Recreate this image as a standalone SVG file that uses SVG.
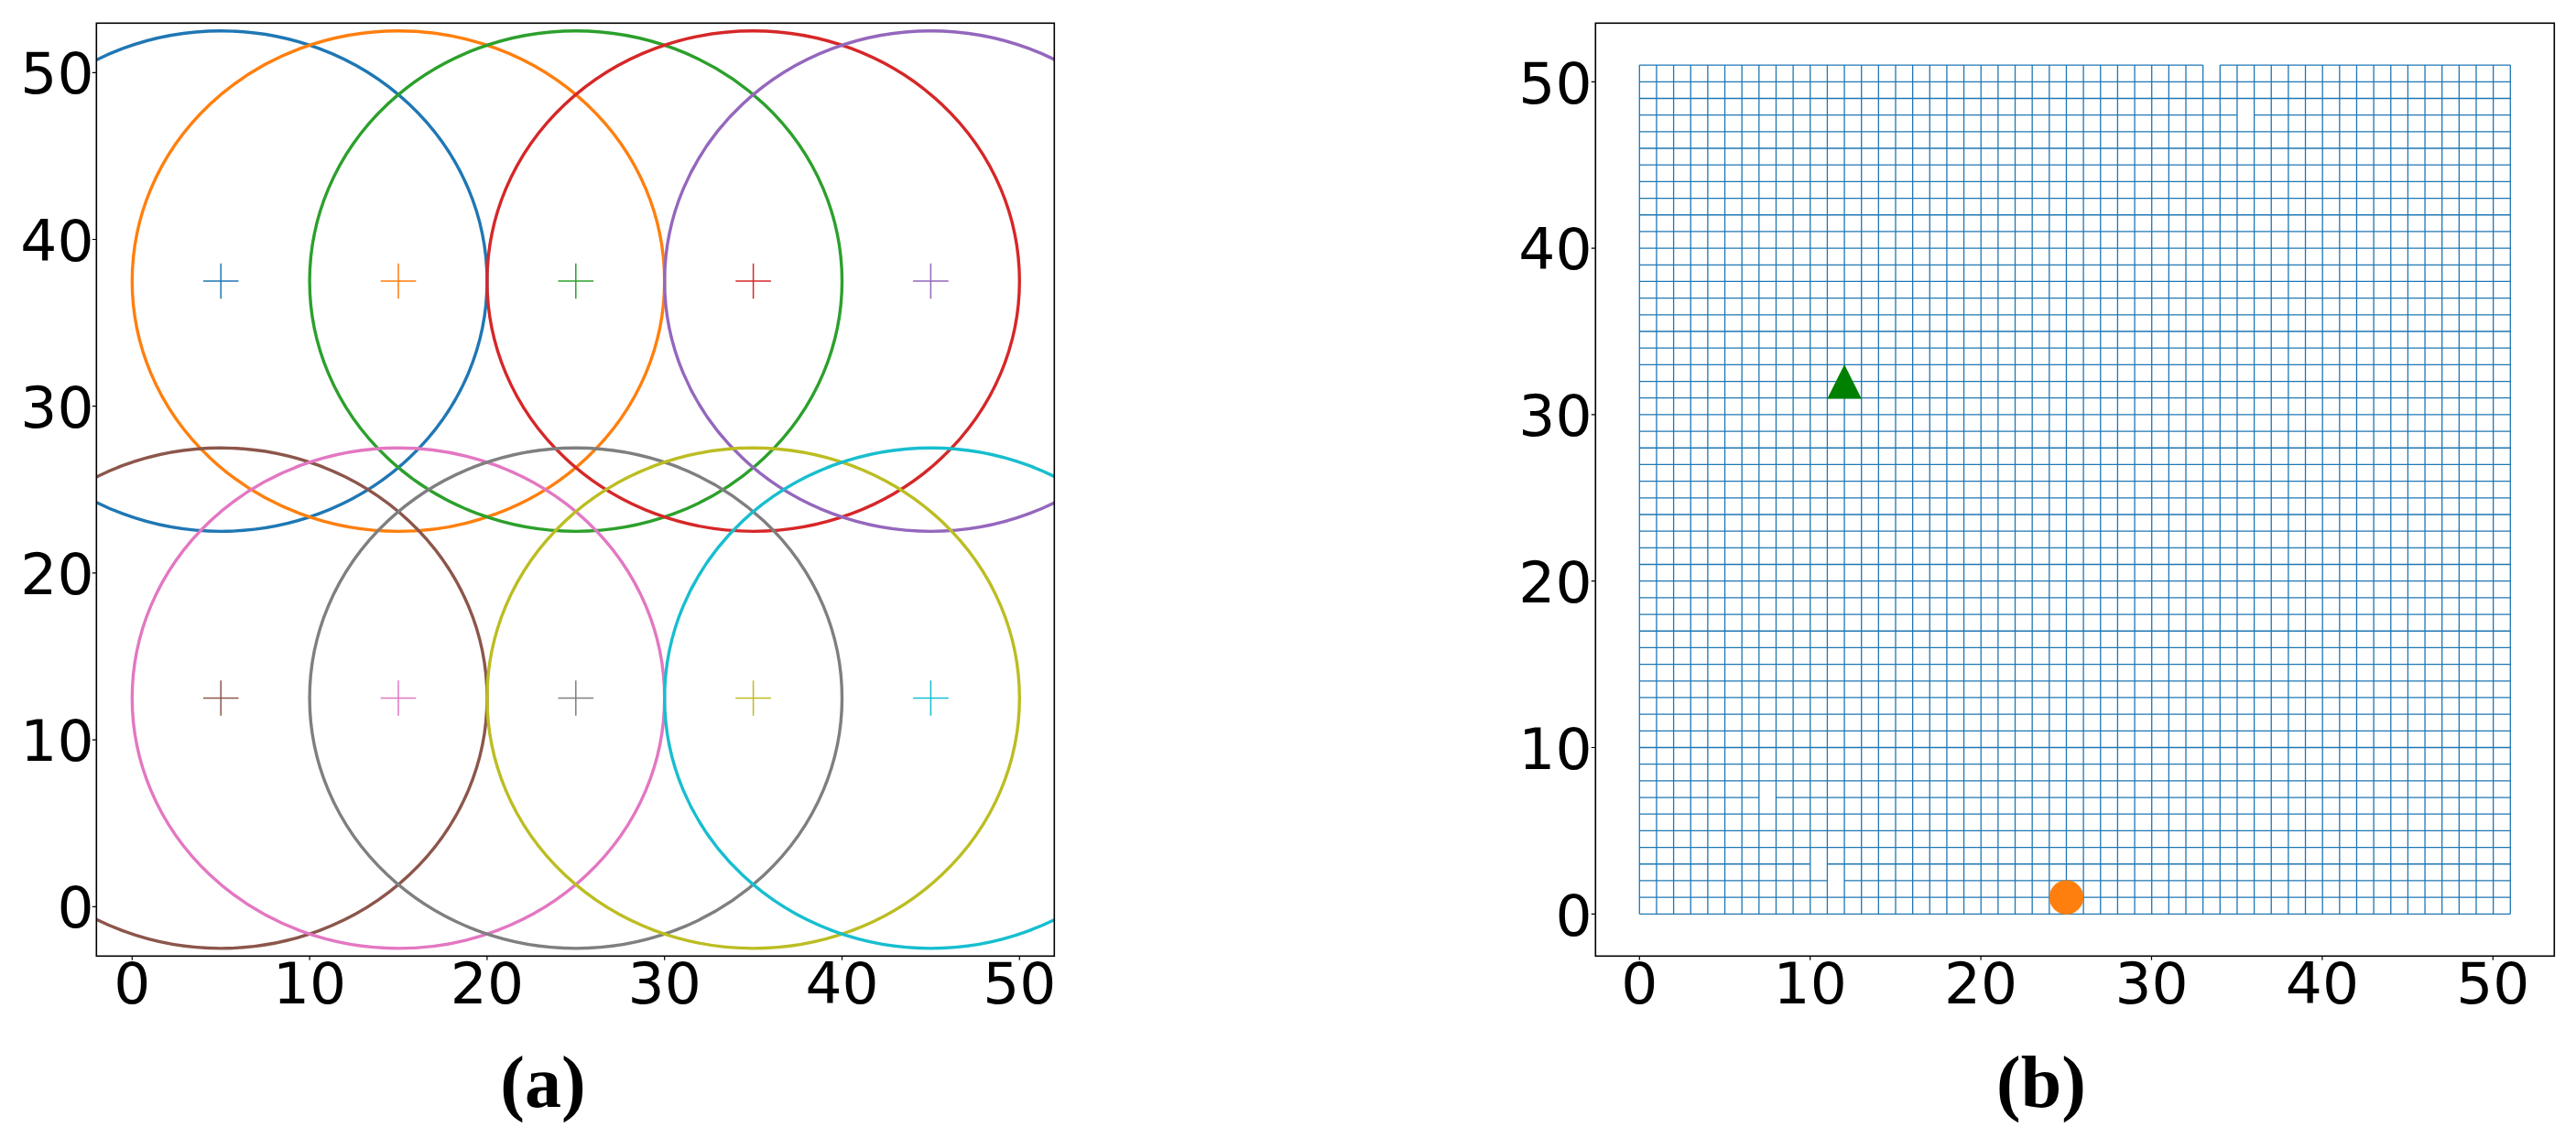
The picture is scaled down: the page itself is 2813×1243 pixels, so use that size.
<svg xmlns="http://www.w3.org/2000/svg" xmlns:xlink="http://www.w3.org/1999/xlink" width="2813" height="1243" viewBox="0 0 2813 1243">
<style>
.frame{fill:none;stroke:#000;stroke-width:1.6}
.tick{stroke:#000;stroke-width:1.2}
.tl{font-family:"DejaVu Sans",sans-serif;font-size:63px;fill:#000}
.tly{text-anchor:end}
.tlx{text-anchor:middle}
.cap{font-family:"Liberation Serif",serif;font-weight:bold;font-size:80px;text-anchor:middle;fill:#000}
.ring{fill:none;stroke-width:3.4;vector-effect:non-scaling-stroke}
.grid{fill:none;stroke:#1f77b4;stroke-width:1.3;vector-effect:non-scaling-stroke}
.plus{fill:none;stroke-width:1.5}
</style>
<defs>
<clipPath id="clipA"><rect x="105.3" y="25.3" width="1046" height="1019"/></clipPath>
<path id="plus" d="M-19.3 0H19.3M0 -19.3V19.3"/>
</defs>
<rect width="2813" height="1243" fill="#fff"/>

<g id="panel-a">
  <g id="circles-a" clip-path="url(#clipA)">
    <g transform="translate(144.3,990.3) scale(19.38,-18.22)">
      <circle class="ring" cx="5" cy="37.5" r="15" stroke="#1f77b4"/>
      <circle class="ring" cx="15" cy="37.5" r="15" stroke="#ff7f0e"/>
      <circle class="ring" cx="25" cy="37.5" r="15" stroke="#2ca02c"/>
      <circle class="ring" cx="35" cy="37.5" r="15" stroke="#d62728"/>
      <circle class="ring" cx="45" cy="37.5" r="15" stroke="#9467bd"/>
      <circle class="ring" cx="5" cy="12.5" r="15" stroke="#8c564b"/>
      <circle class="ring" cx="15" cy="12.5" r="15" stroke="#e377c2"/>
      <circle class="ring" cx="25" cy="12.5" r="15" stroke="#7f7f7f"/>
      <circle class="ring" cx="35" cy="12.5" r="15" stroke="#bcbd22"/>
      <circle class="ring" cx="45" cy="12.5" r="15" stroke="#17becf"/>
    </g>
    <g class="plus">
      <use xlink:href="#plus" x="241.2" y="307" stroke="#1f77b4"/>
      <use xlink:href="#plus" x="435" y="307" stroke="#ff7f0e"/>
      <use xlink:href="#plus" x="628.8" y="307" stroke="#2ca02c"/>
      <use xlink:href="#plus" x="822.6" y="307" stroke="#d62728"/>
      <use xlink:href="#plus" x="1016.4" y="307" stroke="#9467bd"/>
      <use xlink:href="#plus" x="241.2" y="762.5" stroke="#8c564b"/>
      <use xlink:href="#plus" x="435" y="762.5" stroke="#e377c2"/>
      <use xlink:href="#plus" x="628.8" y="762.5" stroke="#7f7f7f"/>
      <use xlink:href="#plus" x="822.6" y="762.5" stroke="#bcbd22"/>
      <use xlink:href="#plus" x="1016.4" y="762.5" stroke="#17becf"/>
    </g>
  </g>
  <rect class="frame" x="105.3" y="25.3" width="1046" height="1019"/>
  <path class="tick" d="M144.3 1044.3v4.5M338.1 1044.3v4.5M531.9 1044.3v4.5M725.7 1044.3v4.5M919.5 1044.3v4.5M1113.3 1044.3v4.5M105.3 990.3h-4.5M105.3 808.1h-4.5M105.3 625.9h-4.5M105.3 443.7h-4.5M105.3 261.5h-4.5M105.3 79.3h-4.5"/>
  <g class="tl tlx">
    <text x="144.3" y="1096">0</text>
    <text x="338.1" y="1096">10</text>
    <text x="531.9" y="1096">20</text>
    <text x="725.7" y="1096">30</text>
    <text x="919.5" y="1096">40</text>
    <text x="1113.3" y="1096">50</text>
  </g>
  <g class="tl tly">
    <text x="102.5" y="1013.3">0</text>
    <text x="102.5" y="831.1">10</text>
    <text x="102.5" y="648.9">20</text>
    <text x="102.5" y="466.7">30</text>
    <text x="102.5" y="284.5">40</text>
    <text x="102.5" y="102.3">50</text>
  </g>
  <text class="cap" x="593" y="1209">(a)</text>
</g>

<g id="panel-b">
  <g id="grid-b" transform="translate(1790.3,998.3) scale(18.647,-18.18)">
    <path class="grid" d="M0 0V51M1 0V51M2 0V51M3 0V51M4 0V51M5 0V51M6 0V51M7 0V51M8 0V51M9 0V51M10 0V51M11 0V51M12 0V51M13 0V51M14 0V51M15 0V51M16 0V51M17 0V51M18 0V51M19 0V51M20 0V51M21 0V51M22 0V51M23 0V51M24 0V51M25 0V51M26 0V51M27 0V51M28 0V51M29 0V51M30 0V51M31 0V51M32 0V51M33 0V51M34 0V51M35 0V51M36 0V51M37 0V51M38 0V51M39 0V51M40 0V51M41 0V51M42 0V51M43 0V51M44 0V51M45 0V51M46 0V51M47 0V51M48 0V51M49 0V51M50 0V51M51 0V51"/>
    <path class="grid" d="M0 0H51M0 1H51M0 2H11M12 2H51M0 3H10M11 3H51M0 4H51M0 5H51M0 6H51M0 7H7M8 7H51M0 8H51M0 9H51M0 10H51M0 11H51M0 12H51M0 13H51M0 14H51M0 15H51M0 16H51M0 17H51M0 18H51M0 19H51M0 20H51M0 21H51M0 22H51M0 23H51M0 24H51M0 25H51M0 26H51M0 27H51M0 28H51M0 29H51M0 30H51M0 31H51M0 32H51M0 33H51M0 34H51M0 35H51M0 36H51M0 37H51M0 38H51M0 39H51M0 40H51M0 41H51M0 42H51M0 43H51M0 44H51M0 45H51M0 46H51M0 47H51M0 48H35M36 48H51M0 49H51M0 50H51M0 51H33M34 51H51"/>
  </g>
  <polygon id="start-marker" points="2014.1,398 1995.4,435.4 2032.8,435.4" fill="#008000"/>
  <circle id="goal-marker" cx="2256.5" cy="980.1" r="18.7" fill="#ff7f0e"/>
  <rect class="frame" x="1742.3" y="25.3" width="1047" height="1019"/>
  <path class="tick" d="M1790.3 1044.3v4.5M1976.7 1044.3v4.5M2163.1 1044.3v4.5M2349.5 1044.3v4.5M2535.9 1044.3v4.5M2722.3 1044.3v4.5M1742.3 998.3h-4.5M1742.3 816.5h-4.5M1742.3 634.7h-4.5M1742.3 452.9h-4.5M1742.3 271.1h-4.5M1742.3 89.3h-4.5"/>
  <g class="tl tlx">
    <text x="1790.3" y="1096">0</text>
    <text x="1976.7" y="1096">10</text>
    <text x="2163.1" y="1096">20</text>
    <text x="2349.5" y="1096">30</text>
    <text x="2535.9" y="1096">40</text>
    <text x="2722.3" y="1096">50</text>
  </g>
  <g class="tl tly">
    <text x="1738.5" y="1021.5">0</text>
    <text x="1738.5" y="839.7">10</text>
    <text x="1738.5" y="657.9">20</text>
    <text x="1738.5" y="476.1">30</text>
    <text x="1738.5" y="294.3">40</text>
    <text x="1738.5" y="112.5">50</text>
  </g>
  <text class="cap" x="2229" y="1209">(b)</text>
</g>
</svg>
